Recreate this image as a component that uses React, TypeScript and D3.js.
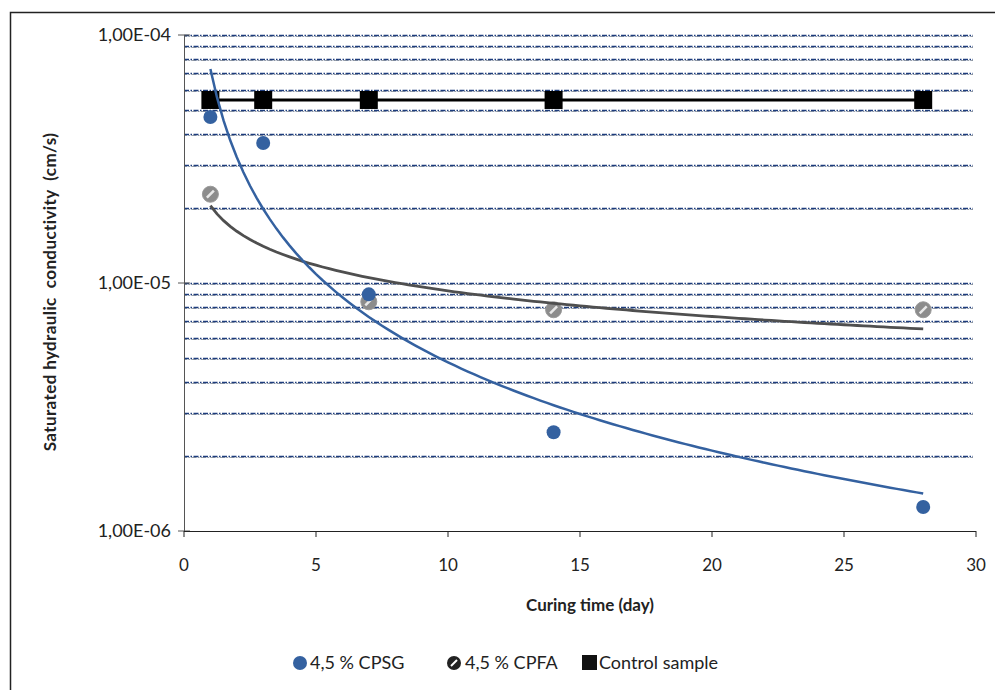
import React from "react";
import * as d3 from "d3";

// curing time (days) and saturated hydraulic conductivity (cm/s)
const cpsgDays = [1, 3, 7, 14, 28];
const cpsgValues = [4.67e-5, 3.67e-5, 9.0e-6, 2.5e-6, 1.25e-6];

const cpfaDays = [1, 7, 14, 28];
const cpfaValues = [2.28e-5, 8.4e-6, 7.8e-6, 7.8e-6];

const controlDays = [1, 3, 7, 14, 28];
const controlValues = [5.47e-5, 5.47e-5, 5.47e-5, 5.47e-5, 5.47e-5];

const xTicks = [0, 5, 10, 15, 20, 25, 30];
const yMajor = [1e-4, 1e-5, 1e-6];
const yLabels = ["1,00E-04", "1,00E-05", "1,00E-06"];
const yGrid = [
  1e-4, 9e-5, 8e-5, 7e-5, 6e-5, 5e-5, 4e-5, 3e-5, 2e-5,
  1e-5, 9e-6, 8e-6, 7e-6, 6e-6, 5e-6, 4e-6, 3e-6, 2e-6,
];

const W = 995;
const H = 690;
const FONT = "Lato, 'Open Sans', sans-serif";

// Excel-like power trendline: least squares in log-log space
function powerFit(xs: number[], ys: number[]) {
  const lx = xs.map(Math.log);
  const ly = ys.map(Math.log);
  const mx = d3.mean(lx) as number;
  const my = d3.mean(ly) as number;
  const sxy = d3.sum(lx, (v, i) => (v - mx) * (ly[i] - my));
  const sxx = d3.sum(lx, (v) => (v - mx) * (v - mx));
  const b = sxy / sxx;
  const a = Math.exp(my - b * mx);
  return (x: number) => a * Math.pow(x, b);
}

export default function App() {
  const x = d3.scaleLinear().domain([0, 30]).range([184, 976]);
  const y = d3.scaleLog().domain([1e-6, 1e-4]).range([531, 35]);

  const line = d3
    .line<[number, number]>()
    .x((d) => x(d[0]))
    .y((d) => y(d[1]));

  const samples = d3.range(1, 28.001, 0.25);
  const cpsgFit = powerFit(cpsgDays, cpsgValues);
  const cpfaFit = powerFit(cpfaDays, cpfaValues);
  const cpsgTrend = samples.map((t) => [t, cpsgFit(t)] as [number, number]);
  const cpfaTrend = samples.map((t) => [t, cpfaFit(t)] as [number, number]);
  const controlLine = controlDays.map((t, i) => [t, controlValues[i]] as [number, number]);

  const blue = "#3461a0";
  const grey = "#8c8c8c";

  return (
    <svg
      width={W}
      height={H}
      style={{ position: "absolute", left: 0, top: 0, background: "#fff" }}
      fontFamily={FONT}
    >
      {/* outer frame (top and left visible) */}
      <path d={`M10.5,${H} V12.5 H${W}`} fill="none" stroke="#222" strokeWidth={1.5} />

      {/* gridlines */}
      <g>
        {yGrid.map((v) => (
          <g key={v}>
            <line
              x1={x(0)}
              x2={973}
              y1={Math.round(y(v)) + 1.5}
              y2={Math.round(y(v)) + 1.5}
              stroke="#9aa0a8"
              strokeWidth={1}
              strokeDasharray="5,1.5,1.5,1.5"
              strokeDashoffset={2}
            />
            <line
              x1={x(0)}
              x2={973}
              y1={Math.round(y(v)) + 0.5}
              y2={Math.round(y(v)) + 0.5}
              stroke="#1d3c7c"
              strokeWidth={1.3}
              strokeDasharray="5,1.5,1.5,1.5"
            />
          </g>
        ))}
      </g>

      {/* y axis */}
      <line x1={184.5} x2={184.5} y1={35} y2={531} stroke="#555" strokeWidth={1} />
      {yMajor.map((v, i) => (
        <g key={v}>
          <line x1={178} x2={190} y1={y(v)} y2={y(v)} stroke="#555" />
          <text x={171} y={y(v)} dy="0.35em" textAnchor="end" fontSize={18} fill="#222">
            {yLabels[i]}
          </text>
        </g>
      ))}

      {/* x axis */}
      <line x1={184} x2={976} y1={531.5} y2={531.5} stroke="#222" strokeWidth={1} />
      {xTicks.map((t) => (
        <g key={t}>
          <line x1={x(t)} x2={x(t)} y1={531} y2={537} stroke="#222" />
          <text x={x(t)} y={565} dy="0.35em" textAnchor="middle" fontSize={17} fill="#222">
            {t}
          </text>
        </g>
      ))}

      <text x={590} y={605} dy="0.35em" textAnchor="middle" fontSize={17} fontWeight="bold" fill="#222">
        Curing time (day)
      </text>
      <text
        transform="translate(50,292) rotate(-90)"
        dy="0.35em"
        textAnchor="middle"
        fontSize={17}
        letterSpacing={0.4}
        fontWeight="bold"
        fill="#222"
        style={{ whiteSpace: "pre" }}
      >
        {"Saturated hydraulic  conductivity  (cm/s)"}
      </text>

      {/* control sample */}
      <path d={line(controlLine) || ""} fill="none" stroke="#000" strokeWidth={3} />
      {controlDays.map((t, i) => (
        <rect key={t} x={x(t) - 9} y={y(controlValues[i]) - 9} width={18} height={18} fill="#000" />
      ))}

      {/* CPFA */}
      {cpfaDays.map((t, i) => (
        <g key={t} transform={`translate(${x(t)},${y(cpfaValues[i])})`}>
          <circle r={8} fill={grey} stroke="#9a9a9a" strokeWidth={1} />
          <line x1={-3.5} y1={3.5} x2={3.5} y2={-3.5} stroke="#e8e8e8" strokeWidth={2.5} />
        </g>
      ))}
      <path d={line(cpfaTrend) || ""} fill="none" stroke="#4f4f4f" strokeWidth={2.8} />

      {/* CPSG */}
      {cpsgDays.map((t, i) => (
        <circle key={t} cx={x(t)} cy={y(cpsgValues[i])} r={7} fill={blue} />
      ))}
      <path d={line(cpsgTrend) || ""} fill="none" stroke={blue} strokeWidth={2.5} />

      {/* legend */}
      <g fontSize={18} fill="#222">
        <circle cx={300} cy={663} r={7} fill={blue} />
        <text x={310} y={663} dy="0.35em">4,5 % CPSG</text>
        <circle cx={454} cy={663} r={7} fill="#222" />
        <line x1={451} y1={666} x2={457} y2={660} stroke="#fff" strokeWidth={2} />
        <text x={465} y={663} dy="0.35em">4,5 % CPFA</text>
        <rect x={582} y={655} width={15} height={15} fill="#111" />
        <text x={599} y={663} dy="0.35em">Control sample</text>
      </g>
    </svg>
  );
}
